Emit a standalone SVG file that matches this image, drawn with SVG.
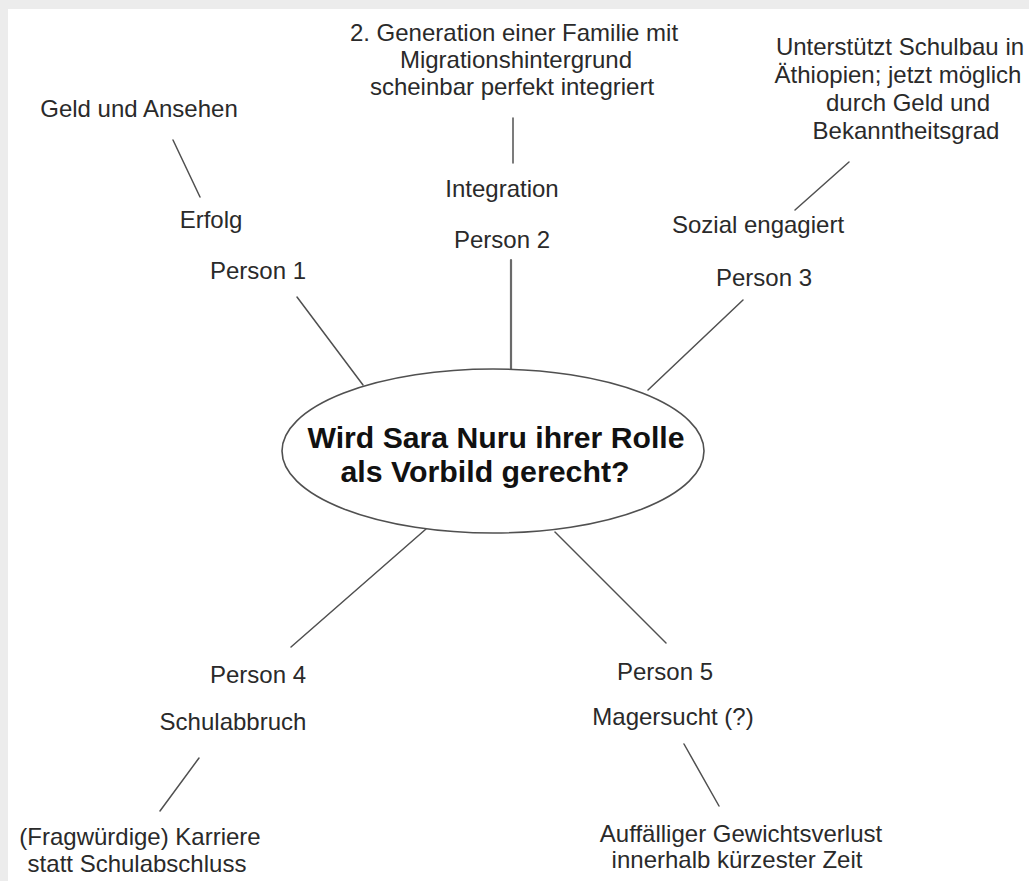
<svg xmlns="http://www.w3.org/2000/svg" width="1029" height="881" viewBox="0 0 1029 881">
<style>
  .t { font-family: "Liberation Sans", Arial, sans-serif; font-size: 24px; fill: #2a2a2a; text-anchor: middle; }
  .b { font-family: "Liberation Sans", Arial, sans-serif; font-size: 29px; font-weight: bold; fill: #111; text-anchor: middle; }
  .c line { stroke: #505050; stroke-width: 1.5; stroke-linecap: round; }
  .e { fill: #fff; stroke: #505050; stroke-width: 1.6; }
</style>
<rect x="0" y="0" width="1029" height="881" fill="#fff"/>
<rect x="0" y="0" width="1029" height="9" fill="#ececec"/>
<rect x="0" y="0" width="8" height="881" fill="#ececec"/>

<g class="c" id="connectors">
  <line x1="173" y1="140" x2="200" y2="197"/>
  <line x1="297" y1="297" x2="363" y2="385"/>
  <line x1="513" y1="118" x2="513" y2="163"/>
  <line x1="511" y1="260" x2="511" y2="369" style="stroke-width:2.2;stroke:#6a6a6a"/>
  <line x1="849" y1="162" x2="795" y2="210"/>
  <line x1="743" y1="300" x2="648" y2="390"/>
  <line x1="426" y1="529" x2="291" y2="647"/>
  <line x1="555" y1="532" x2="666" y2="643"/>
  <line x1="199" y1="758" x2="160" y2="811"/>
  <line x1="684" y1="744" x2="719" y2="806"/>
</g>

<g id="center">
  <ellipse class="e" cx="493" cy="451" rx="211" ry="82"/>
  <text class="b" x="496" y="448" textLength="377" lengthAdjust="spacingAndGlyphs">Wird Sara Nuru ihrer Rolle</text>
  <text class="b" x="485" y="482" textLength="289" lengthAdjust="spacingAndGlyphs">als Vorbild gerecht?</text>
</g>

<g id="person1">
  <text class="t" x="258" y="279">Person 1</text>
</g>
<g id="erfolg">
  <text class="t" x="211" y="228">Erfolg</text>
</g>
<g id="geld">
  <text class="t" x="139" y="117">Geld und Ansehen</text>
</g>

<g id="person2">
  <text class="t" x="502" y="248">Person 2</text>
</g>
<g id="integration">
  <text class="t" x="502" y="197">Integration</text>
</g>
<g id="generation">
  <text class="t" x="514" y="41">2. Generation einer Familie mit</text>
  <text class="t" x="516" y="68">Migrationshintergrund</text>
  <text class="t" x="512" y="95">scheinbar perfekt integriert</text>
</g>

<g id="person3">
  <text class="t" x="764" y="286">Person 3</text>
</g>
<g id="sozial">
  <text class="t" x="758" y="233">Sozial engagiert</text>
</g>
<g id="schulbau">
  <text class="t" x="900" y="55">Unterstützt Schulbau in</text>
  <text class="t" x="898" y="83">Äthiopien; jetzt möglich</text>
  <text class="t" x="908" y="111">durch Geld und</text>
  <text class="t" x="906" y="139">Bekanntheitsgrad</text>
</g>

<g id="person4">
  <text class="t" x="258" y="683">Person 4</text>
</g>
<g id="schulabbruch">
  <text class="t" x="233" y="730">Schulabbruch</text>
</g>
<g id="karriere">
  <text class="t" x="140" y="845">(Fragwürdige) Karriere</text>
  <text class="t" x="137" y="872">statt Schulabschluss</text>
</g>

<g id="person5">
  <text class="t" x="665" y="680">Person 5</text>
</g>
<g id="magersucht">
  <text class="t" x="673" y="725">Magersucht (?)</text>
</g>
<g id="gewicht">
  <text class="t" x="741" y="842">Auffälliger Gewichtsverlust</text>
  <text class="t" x="737" y="868">innerhalb kürzester Zeit</text>
</g>
</svg>
